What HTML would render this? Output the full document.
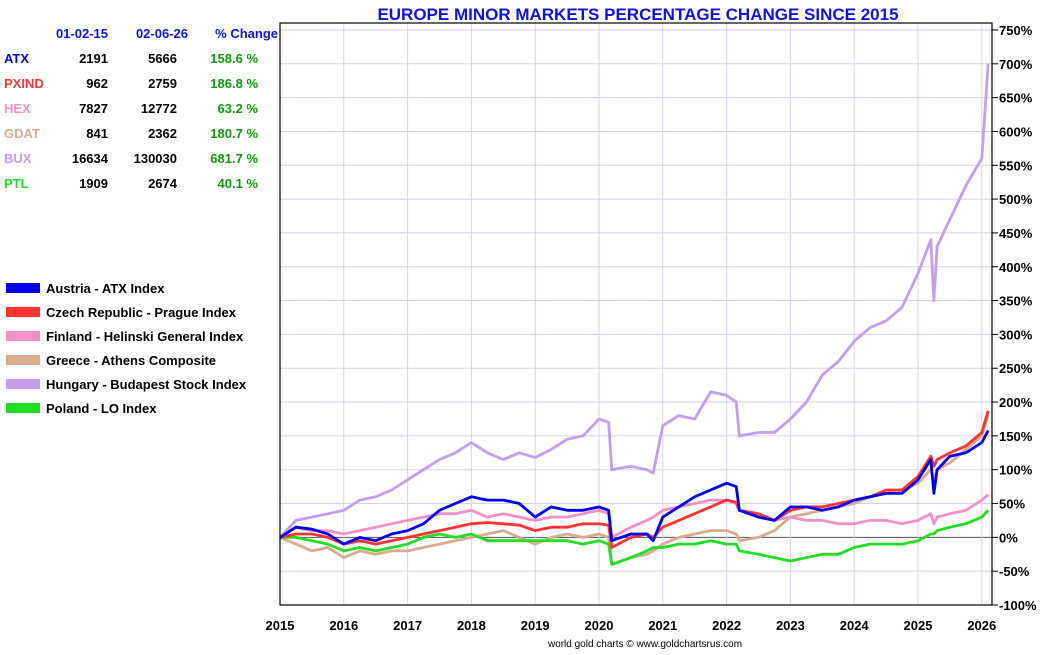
<!DOCTYPE html>
<html><head><meta charset="utf-8"><style>
body{margin:0;background:#fff;font-family:"Liberation Sans",sans-serif}
svg text{font-family:"Liberation Sans",sans-serif;font-weight:bold}
</style></head><body>
<svg id="c" width="1050" height="650" xmlns="http://www.w3.org/2000/svg">
<text x="638" y="20" text-anchor="middle" font-size="17" fill="#1010ee">EUROPE MINOR MARKETS PERCENTAGE CHANGE SINCE 2015</text>
<g id="grid"></g>
<g id="series"></g>
<g id="axes"></g>
<g id="table"></g>
<g id="legend"></g>
<text x="645" y="647" text-anchor="middle" font-size="10" style="font-weight:normal" fill="#000">world gold charts © www.goldchartsrus.com</text>
</svg>
<script>
const dates=[2015,2015.25,2015.5,2015.75,2016,2016.25,2016.5,2016.75,2017,2017.25,2017.5,2017.75,2018,2018.25,2018.5,2018.75,2019,2019.25,2019.5,2019.75,2020,2020.15,2020.2,2020.5,2020.75,2020.85,2021,2021.25,2021.5,2021.75,2022,2022.15,2022.2,2022.5,2022.75,2023,2023.25,2023.5,2023.75,2024,2024.25,2024.5,2024.75,2025,2025.2,2025.25,2025.3,2025.5,2025.75,2026,2026.1];
const bux=[0,25,30,35,40,55,60,70,85,100,115,125,140,125,115,125,118,130,145,150,175,170,100,105,100,95,165,180,175,215,210,200,150,155,155,175,200,240,260,290,310,320,340,390,440,350,430,470,520,560,700];
const gdat=[0,-10,-20,-15,-30,-20,-25,-20,-20,-15,-10,-5,0,5,10,0,-10,0,5,0,5,0,-40,-30,-25,-20,-10,0,5,10,10,5,-5,0,10,30,35,40,45,50,60,65,70,80,100,85,100,110,130,150,181];
const hex=[0,15,10,10,5,10,15,20,25,30,35,35,40,30,35,30,25,30,30,35,40,35,0,15,25,30,40,45,50,55,55,50,40,30,25,30,25,25,20,20,25,25,20,25,35,20,30,35,40,55,63];
const ptl=[0,0,-5,-10,-20,-15,-20,-15,-10,0,5,0,5,-5,-5,-5,-5,-5,-5,-10,-5,-10,-40,-30,-20,-15,-15,-10,-10,-5,-10,-10,-20,-25,-30,-35,-30,-25,-25,-15,-10,-10,-10,-5,5,5,10,15,20,30,40];
const pxind=[0,5,5,0,-10,-5,-10,-5,0,5,10,15,20,22,20,18,10,15,15,20,20,18,-15,0,5,0,15,25,35,45,55,52,40,35,25,40,45,45,50,55,60,70,70,90,120,105,115,125,135,155,187];
const atx=[0,15,12,5,-10,0,-5,5,10,20,40,50,60,55,55,50,30,45,40,40,45,40,-5,5,5,-5,30,45,60,70,80,75,40,30,25,45,45,40,45,55,60,65,65,85,115,65,100,120,125,140,158];
const yTicks=[-100,-50,0,50,100,150,200,250,300,350,400,450,500,550,600,650,700,750];
const xTicks=[2015,2016,2017,2018,2019,2020,2021,2022,2023,2024,2025,2026];
const L=280,R=992,T=23,B=605;
const X=d=>280+(d-2015)*63.8;
const Y=v=>605-(v+100)*0.6765;
const NS="http://www.w3.org/2000/svg";
function mk(t,a,p){const e=document.createElementNS(NS,t);for(const k in a)e.setAttribute(k,a[k]);p.appendChild(e);return e;}
const g=document.getElementById('grid'),ax=document.getElementById('axes'),sg=document.getElementById('series');
yTicks.forEach(v=>{
 const l=mk('line',{x1:L,x2:R,y1:Y(v),y2:Y(v),stroke:v===0?'#555':'#d8d0f0','stroke-width':1},g);
 
 
 mk('line',{x1:R,x2:R+6,y1:Y(v),y2:Y(v),stroke:'#000'},ax);
 const t=mk('text',{x:R+7,y:Y(v)+5,'font-size':13,fill:'#000'},ax);t.textContent=v+'%';
 
 
});
xTicks.forEach(d=>{
 const l=mk('line',{x1:X(d),x2:X(d),y1:T,y2:B,stroke:'#d8d0f0','stroke-width':1},g);
 
 
 const t=mk('text',{x:X(d),y:630,'font-size':13,'text-anchor':'middle',fill:'#000'},ax);t.textContent=d;
 
 
});
mk('rect',{x:L,y:T,width:R-L,height:B-T,fill:'none',stroke:'#000','stroke-width':1.2},ax);
const series=[[bux,'#c49cf0','series-bux'],[gdat,'#d8aa90','series-gdat'],[hex,'#f090c8','series-hex'],[ptl,'#22dd22','series-ptl'],[pxind,'#ff3333','series-pxind'],[atx,'#0000ee','series-atx']];
series.forEach(([s,c,n])=>{
 const p=mk('polyline',{points:s.map((v,i)=>X(dates[i]).toFixed(1)+','+Y(v).toFixed(1)).join(' '),fill:'none',stroke:c,'stroke-width':2.8,'stroke-linejoin':'round'},sg);
 
 
});
const tb=document.getElementById('table');
const hdr=[['01-02-15',108],['02-06-26',188],['% Change',278]];
hdr.forEach(([t,x])=>{const e=mk('text',{x:x,y:38,'font-size':13,'text-anchor':'end',fill:'#1010ee'},tb);e.textContent=t;
 
 });
const rows=[['ATX','2191','5666','158.6 %','#0000ee'],['PXIND','962','2759','186.8 %','#ff3333'],['HEX','7827','12772','63.2 %','#f090c8'],['GDAT','841','2362','180.7 %','#d8aa90'],['BUX','16634','130030','681.7 %','#c49cf0'],['PTL','1909','2674','40.1 %','#22dd22']];
rows.forEach((r,i)=>{const y=63+i*25;
 let e=mk('text',{x:4,y:y,'font-size':13,fill:r[4]},tb);e.textContent=r[0];
 
 
 e=mk('text',{x:108,y:y,'font-size':13,'text-anchor':'end',fill:'#000'},tb);e.textContent=r[1];
 
 
 e=mk('text',{x:177,y:y,'font-size':13,'text-anchor':'end',fill:'#000'},tb);e.textContent=r[2];
 
 
 e=mk('text',{x:258,y:y,'font-size':13,'text-anchor':'end',fill:'#119911'},tb);e.textContent=r[3];
 
 
});
const lg=document.getElementById('legend');
const items=[['Austria - ATX Index','#0000ee'],['Czech Republic - Prague Index','#ff3333'],['Finland - Helinski General Index','#f090c8'],['Greece - Athens Composite','#d8aa90'],['Hungary - Budapest Stock Index','#c49cf0'],['Poland - LO Index','#22dd22']];
items.forEach((it,i)=>{const y=288+i*24;
 let r=mk('rect',{x:6,y:y-5,width:34,height:10,fill:it[1]},lg);
 
 
 const t=mk('text',{x:46,y:y+5,'font-size':13,fill:'#000'},lg);t.textContent=it[0];
 
 
});
</script>
</body></html>
